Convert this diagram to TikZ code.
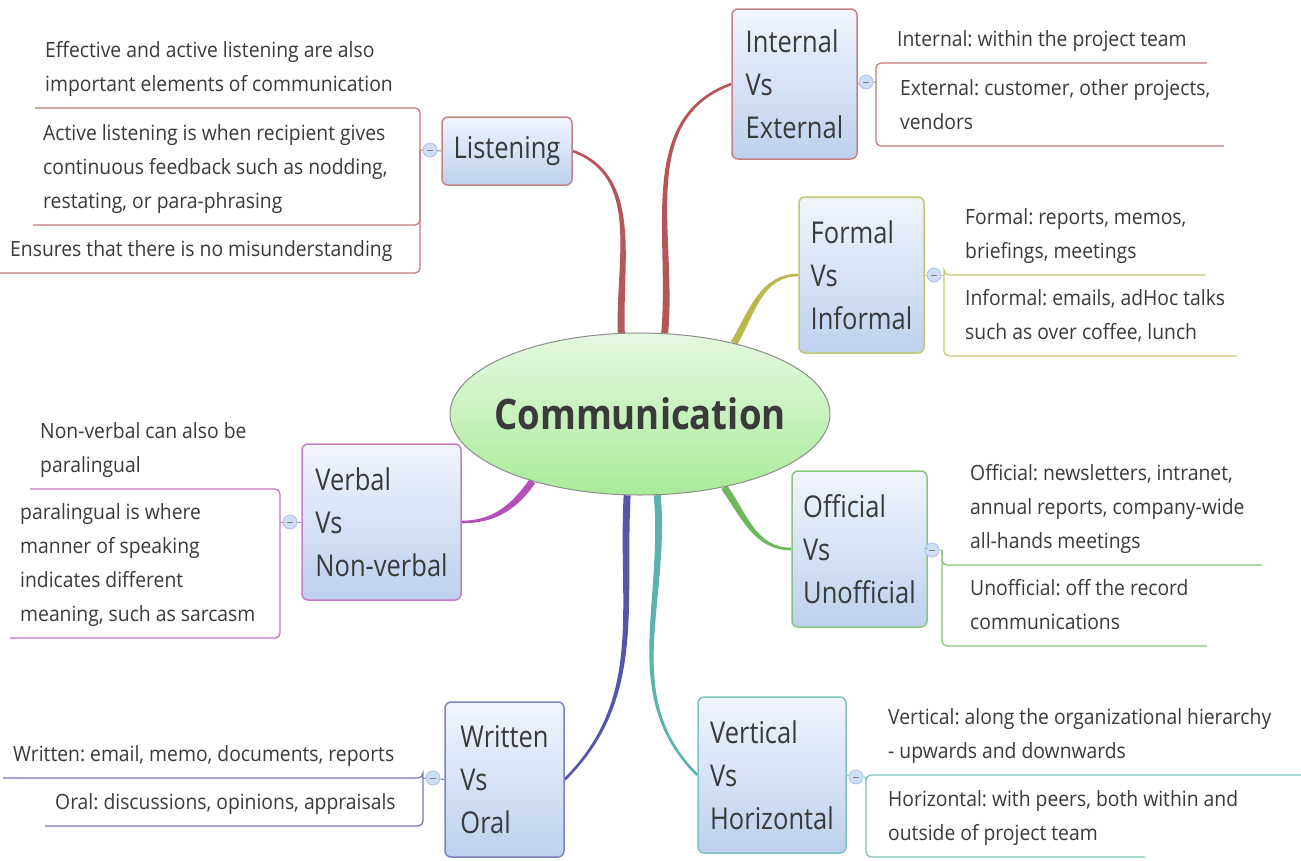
\documentclass[tikz,border=0pt]{standalone}
\usepackage{fontspec}
\setmainfont{Open Sans}[FakeStretch=0.92]
\newfontfamily\topicfont{Open Sans}[FakeStretch=0.85]
\newfontfamily\centrefont{Open Sans}[FakeStretch=0.87]
\usetikzlibrary{shapes.geometric}
\pgfdeclarelayer{back}
\pgfsetlayers{back,main}
\definecolor{txt}{HTML}{3A3A3A}
\definecolor{cred}{HTML}{B5565A}
\definecolor{colive}{HTML}{B8B84C}
\definecolor{cgreen}{HTML}{6CB85A}
\definecolor{cteal}{HTML}{5CB3AE}
\definecolor{cblue}{HTML}{5555AA}
\definecolor{cmag}{HTML}{B450B8}
\definecolor{boxtop}{HTML}{F1F5FD}
\definecolor{boxbot}{HTML}{BDD0EE}
\definecolor{ctop}{HTML}{E6F9E1}
\definecolor{cbot}{HTML}{A9EB99}
\definecolor{foldfill}{HTML}{CFDDF5}
\definecolor{foldline}{HTML}{A8C0EA}
\frenchspacing

\begin{document}
\begin{tikzpicture}[x=1pt,y=1pt,
  topic/.style={draw,rounded corners=6pt,line width=1.5pt,top color=boxtop,bottom color=boxbot,align=left,text=txt,font=\topicfont\fontsize{30}{43}\selectfont,inner sep=0pt},
  leaf/.style={anchor=south west,align=left,text=txt,font=\fontsize{21}{34}\selectfont,inner xsep=10pt,inner ysep=11pt,text depth=5pt},
  fold/.style={circle,draw=foldline,fill=foldfill,minimum size=14pt,inner sep=0pt,line width=0.8pt},
  twig/.style={line width=1.3pt,rounded corners=5pt}]
\begin{pgfonlayer}{back}
\fill[white] (0,0) rectangle (1301,-860);
\end{pgfonlayer}
\useasboundingbox (0,0) rectangle (1301,-860);

% central topic
\node[ellipse,draw=black!45,line width=1pt,top color=ctop,bottom color=cbot,minimum width=380pt,minimum height=162pt,inner sep=0pt,text=txt,font=\centrefont\bfseries\fontsize{42}{50}\selectfont] (comm) at (640,-414) {\makebox[0pt]{Communication}};

% main topics
\node[topic,draw=cred!75,minimum width=130pt,minimum height=68pt] (lis) at (507,-151) {Listening};
\node[topic,draw=cred!75,minimum width=125pt,minimum height=150pt] (int) at (794.5,-84) {Internal\\Vs\\External};
\node[topic,draw=colive!80,minimum width=125pt,minimum height=156pt] (for) at (861.5,-275) {Formal\\Vs\\Informal};
\node[topic,draw=cgreen!80,minimum width=135pt,minimum height=156pt] (off) at (859.5,-549) {Official\\Vs\\Unofficial};
\node[topic,draw=cteal!80,minimum width=148pt,minimum height=156pt] (vh) at (772,-775) {Vertical\\Vs\\Horizontal};
\node[topic,draw=cblue!75,minimum width=119pt,minimum height=155pt] (wo) at (504.5,-779.5) {Written\\Vs\\Oral};
\node[topic,draw=cmag!75,minimum width=159pt,minimum height=156pt] (nv) at (381.5,-522) {Verbal\\Vs\\Non-verbal};

% tapered connectors from the centre, behind the ellipse
\begin{pgfonlayer}{back}
\fill[cred] ([shift={(182:3.5)}]comm.103) to[out=92,in=-20] ([shift={(-110:1.3)}]lis.east)
  -- ([shift={(70:1.3)}]lis.east) to[out=-20,in=92] ([shift={(2:3.5)}]comm.103) -- cycle;
\fill[cred] ([shift={(175:3.5)}]comm.73) to[out=85,in=200] ([shift={(110:1.3)}]int.west)
  -- ([shift={(290:1.3)}]int.west) to[out=200,in=85] ([shift={(-5:3.5)}]comm.73) -- cycle;
\fill[colive] ([shift={(150:3.5)}]comm.37) to[out=60,in=180] ([shift={(90:1.3)}]for.west)
  -- ([shift={(270:1.3)}]for.west) to[out=180,in=60] ([shift={(-30:3.5)}]comm.37) -- cycle;
\fill[cgreen] ([shift={(35:3.5)}]comm.-41) to[out=-55,in=180] ([shift={(90:1.3)}]off.west)
  -- ([shift={(270:1.3)}]off.west) to[out=180,in=-55] ([shift={(-145:3.5)}]comm.-41) -- cycle;
\fill[cteal] ([shift={(5:3.5)}]comm.-78) to[out=-85,in=135] ([shift={(45:1.3)}]vh.west)
  -- ([shift={(225:1.3)}]vh.west) to[out=135,in=-85] ([shift={(-175:3.5)}]comm.-78) -- cycle;
\fill[cblue] ([shift={(-3:3.5)}]comm.-99) to[out=-93,in=45] ([shift={(-45:1.3)}]wo.east)
  -- ([shift={(135:1.3)}]wo.east) to[out=45,in=-93] ([shift={(177:3.5)}]comm.-99) -- cycle;
\fill[cmag] ([shift={(-35:3.5)}]comm.-148) to[out=-125,in=0] ([shift={(-90:1.3)}]nv.east)
  -- ([shift={(90:1.3)}]nv.east) to[out=0,in=-125] ([shift={(145:3.5)}]comm.-148) -- cycle;
\end{pgfonlayer}

% fold markers and spine points
\node[fold] (lisf) at (430,-150) {\color{gray}\rule{6pt}{1pt}};
\node[fold] (intf) at (866,-82) {\color{gray}\rule{6pt}{1pt}};
\node[fold] (forf) at (934,-275) {\color{gray}\rule{6pt}{1pt}};
\node[fold] (offf) at (932,-550) {\color{gray}\rule{6pt}{1pt}};
\node[fold] (vhf) at (856,-777) {\color{gray}\rule{6pt}{1pt}};
\node[fold] (wof) at (433,-778) {\color{gray}\rule{6pt}{1pt}};
\node[fold] (nvf) at (290,-522) {\color{gray}\rule{6pt}{1pt}};
\coordinate (lisj) at (420,-150);
\coordinate (intj) at (876,-82);
\coordinate (forj) at (944,-275);
\coordinate (offj) at (942,-550);
\coordinate (vhj) at (866,-777);
\coordinate (woj) at (423,-778);
\coordinate (nvj) at (280,-522);

% sub-topics
\node[leaf] (lis1) at (35,-108) {Effective and active listening are also\\important elements of communication};
\node[leaf] (lis2) at (33,-225) {Active listening is when recipient gives\\continuous feedback such as nodding,\\restating, or para-phrasing};
\node[leaf] (lis3) at (0,-273) {Ensures that there is no misunderstanding};
\node[leaf] (int1) at (887,-63) {Internal: within the project team};
\node[leaf] (int2) at (890,-146) {External: customer, other projects,\\vendors};
\node[leaf] (for1) at (955,-275) {Formal: reports, memos,\\briefings, meetings};
\node[leaf] (for2) at (955,-356) {Informal: emails, adHoc talks\\such as over coffee, lunch};
\node[leaf] (off1) at (960,-565) {Official: newsletters, intranet,\\annual reports, company-wide\\all-hands meetings};
\node[leaf] (off2) at (960,-646) {Unofficial: off the record\\communications};
\node[leaf] (vh1) at (878,-775) {Vertical: along the organizational hierarchy\\- upwards and downwards};
\node[leaf] (vh2) at (878,-857) {Horizontal: with peers, both within and\\outside of project team};
\node[leaf] (wo1) at (3,-778) {Written: email, memo, documents, reports};
\node[leaf] (wo2) at (45,-826) {Oral: discussions, opinions, appraisals};
\node[leaf] (nv1) at (30,-489) {Non-verbal can also be\\paralingual};
\node[leaf] (nv2) at (10,-638) {paralingual is where\\manner of speaking\\indicates different\\meaning, such as sarcasm};
\coordinate (int1e) at (1207,-63);
\coordinate (int2e) at (1224,-146);
\coordinate (for1e) at (1205,-275);
\coordinate (for2e) at (1237,-356);
\coordinate (off1e) at (1262,-565);
\coordinate (off2e) at (1207,-646);
\coordinate (vh1e) at (1301,-775);
\coordinate (vh2e) at (1145,-857);

% listening
\draw[cred!80,line width=1pt] (lis.west) -- (lisf) -- (lisj);
\draw[twig,cred!80] (lis1.south west) -| (lisj);
\draw[twig,cred!80] (lis2.south west) -| (lisj);
\draw[twig,cred!80] (lis3.south west) -| (lisj);
% internal / external
\draw[cred!80,line width=1pt] (int.east) -- (intf) -- (intj);
\draw[twig,cred!80] (intj) |- (int1e);
\draw[twig,cred!80] (intj) |- (int2e);
% formal / informal
\draw[colive!80,line width=1pt] (for.east) -- (forf) -- (forj);
\draw[twig,colive!80] (forj) |- (for1e);
\draw[twig,colive!80] (forj) |- (for2e);
% official / unofficial
\draw[cgreen!80,line width=1pt] (off.east) -- (offf) -- (offj);
\draw[twig,cgreen!80] (offj) |- (off1e);
\draw[twig,cgreen!80] (offj) |- (off2e);
% vertical / horizontal
\draw[cteal!80,line width=1pt] (vh.east) -- (vhf) -- (vhj);
\draw[twig,cteal!80] (vhj) |- (vh1e);
\draw[twig,cteal!80] (vhj) |- (vh2e);
% written / oral
\draw[cblue!80,line width=1pt] (wo.west) -- (wof) -- (woj);
\draw[twig,cblue!80] (wo1.south west) -| (woj);
\draw[twig,cblue!80] (wo2.south west) -| (woj);
% verbal / non-verbal
\draw[cmag!80,line width=1pt] (nv.west) -- (nvf) -- (nvj);
\draw[twig,cmag!80] (nv1.south west) -| (nvj);
\draw[twig,cmag!80] (nv2.south west) -| (nvj);
\end{tikzpicture}
\end{document}
